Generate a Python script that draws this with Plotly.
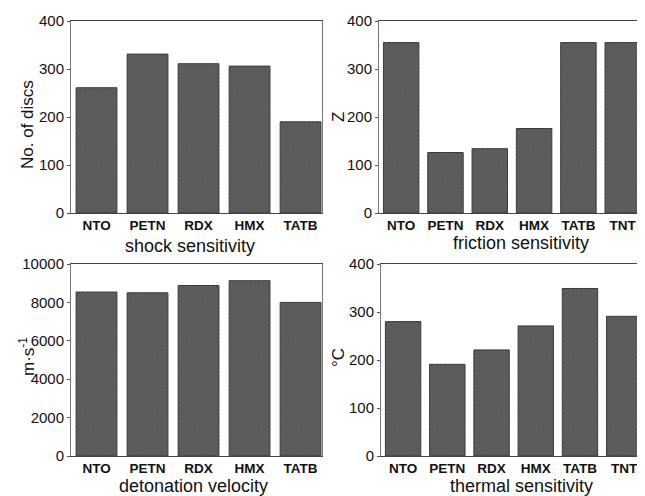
import plotly.graph_objects as go

# page offset from default HTML body margin
OFF = 8
W, H = 645 - OFF, 496 - OFF

shock_cats = ["NTO", "PETN", "RDX", "HMX", "TATB"]
shock_vals = [261, 331, 311, 306, 190]

friction_cats = ["NTO", "PETN", "RDX", "HMX", "TATB", "TNT"]
friction_vals = [355, 126, 134, 176, 355, 355]

deton_cats = ["NTO", "PETN", "RDX", "HMX", "TATB"]
deton_vals = [8540, 8500, 8880, 9130, 8000]

thermal_cats = ["NTO", "PETN", "RDX", "HMX", "TATB", "TNT"]
thermal_vals = [280, 191, 221, 271, 349, 291]

y_titles = ["No. of discs", "Z", "m·s<sup>-1</sup>", "°C"]
x_titles = ["shock sensitivity", "friction sensitivity", "detonation velocity", "thermal sensitivity"]

FONT = "Liberation Sans, Arial, sans-serif"

def fx(a):
    return (a - OFF) / W

def fy(a):
    return 1 - (a - OFF) / H

def px_x(a, b):
    return [fx(a), fx(b)]

def px_y(top, bot):
    return [fy(bot), fy(top)]

panels = [
    dict(cats=shock_cats, vals=shock_vals, xd=px_x(71, 322), yd=px_y(21, 213),
         xr=[-0.5, 4.42], yr=[0, 400], dt=100),
    dict(cats=friction_cats, vals=friction_vals, xd=px_x(379, 644), yd=px_y(21, 213),
         xr=[-0.5, 5.48], yr=[0, 400], dt=100),
    dict(cats=deton_cats, vals=deton_vals, xd=px_x(71, 322), yd=px_y(264, 456),
         xr=[-0.5, 4.42], yr=[0, 10000], dt=2000),
    dict(cats=thermal_cats, vals=thermal_vals, xd=px_x(381, 645), yd=px_y(264, 456),
         xr=[-0.5, 5.47], yr=[0, 400], dt=100),
]

fig = go.Figure()
layout = dict(
    width=W, height=H, margin=dict(l=0, r=0, t=0, b=0, autoexpand=False),
    paper_bgcolor="white", plot_bgcolor="white", showlegend=False,
    bargap=0.19, font=dict(family=FONT, size=14, color="#111"),
)

for i, p in enumerate(panels, start=1):
    sfx = "" if i == 1 else str(i)
    fig.add_trace(go.Bar(
        x=list(range(len(p["cats"]))), y=p["vals"],
        xaxis="x" + sfx, yaxis="y" + sfx,
        marker=dict(color="#585858",
                    line=dict(color="#3a3a3a", width=1),
                    pattern=dict(shape="\\", fgcolor="#3c3c3c", bgcolor="#626262",
                                 size=3, solidity=0.35)),
        width=0.8,
    ))
    layout["xaxis" + sfx] = dict(
        domain=p["xd"], range=p["xr"], anchor="y" + sfx, automargin=False,
        tickmode="array", tickvals=list(range(len(p["cats"]))),
        ticktext=["<b>%s</b>" % c for c in p["cats"]],
        tickfont=dict(family=FONT, size=13.5, color="#111"),
        showline=True, linecolor="#444", linewidth=1, mirror=True,
        ticks="", showgrid=False, zeroline=False, fixedrange=True,
    )
    layout["yaxis" + sfx] = dict(
        domain=p["yd"], range=p["yr"], anchor="x" + sfx, automargin=False,
        dtick=p["dt"], tick0=0, tickformat="d",
        tickfont=dict(family=FONT, size=15, color="#111"),
        showline=True, linecolor="#777", linewidth=1, mirror=True,
        ticks="outside", ticklen=3, tickcolor="#555",
        showgrid=False, zeroline=False, fixedrange=True,
    )

ann = []
ytitle_pos = [(27, 125), (338, 117), (27, 357), (338, 357)]
xtitle_pos = [(190, 246), (521, 243), (193, 486), (521, 486)]
for i in range(4):
    x, y = ytitle_pos[i]
    ann.append(dict(text=y_titles[i], x=fx(x), y=fy(y), xref="paper", yref="paper",
                    showarrow=False, textangle=-90, xanchor="center", yanchor="middle",
                    font=dict(family=FONT, size=17, color="#111")))
    x, y = xtitle_pos[i]
    ann.append(dict(text=x_titles[i], x=fx(x), y=fy(y), xref="paper", yref="paper",
                    showarrow=False, xanchor="center", yanchor="middle",
                    font=dict(family=FONT, size=18, color="#111")))
layout["annotations"] = ann

fig.update_layout(**layout)
fig.write_html("out.html")
